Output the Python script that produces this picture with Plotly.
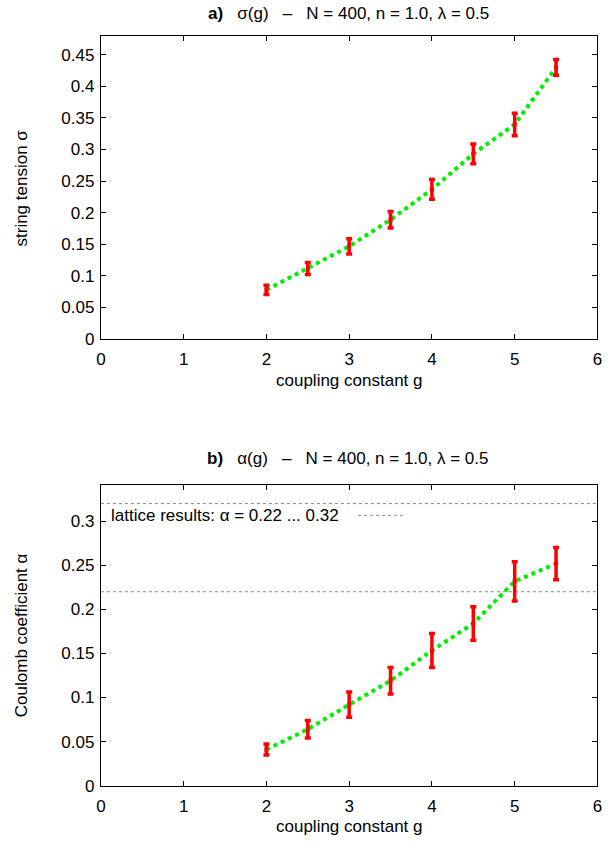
import plotly.graph_objects as go

# coupling constant values
g = [2.0, 2.5, 3.0, 3.5, 4.0, 4.5, 5.0, 5.5]

# a) string tension sigma(g) with errors
sigma = [0.0774, 0.1113, 0.1464, 0.1887, 0.2367, 0.2931, 0.3397, 0.4301]
sigma_err = [0.0073, 0.0096, 0.0122, 0.0131, 0.0157, 0.0157, 0.0180, 0.0125]

# b) Coulomb coefficient alpha(g) with errors
alpha = [0.0410, 0.0640, 0.0919, 0.1190, 0.1533, 0.1840, 0.2318, 0.2519]
alpha_err = [0.0063, 0.0100, 0.0143, 0.0150, 0.0192, 0.0190, 0.0223, 0.0184]

# lattice band for alpha
lattice_bounds = [0.22, 0.32]
x_span = [0, 6]

FONT = "Liberation Sans, Arial, sans-serif"
FS = 17
W, H = 611, 852
GREEN = "#00ee00"
RED = "#ff0000"
GREY = "#888888"

fig = go.Figure()


def add_series(xs, ys, errs, xa, ya):
    fig.add_trace(go.Scatter(
        x=xs, y=ys, mode="lines", xaxis=xa, yaxis=ya,
        line=dict(color=GREEN, width=4, dash="dot"),
        showlegend=False, hoverinfo="skip"))
    fig.add_trace(go.Scatter(
        x=xs, y=ys, mode="markers", xaxis=xa, yaxis=ya,
        marker=dict(color=RED, size=4, symbol="square"),
        error_y=dict(type="data", array=errs, color=RED, thickness=3.5, width=3),
        showlegend=False))


add_series(g, sigma, sigma_err, "x", "y")

# lattice band lines
for b in lattice_bounds:
    fig.add_trace(go.Scatter(
        x=x_span, y=[b, b], mode="lines", xaxis="x2", yaxis="y2",
        line=dict(color=GREY, width=1, dash="dot"),
        showlegend=False, hoverinfo="skip"))

add_series(g, alpha, alpha_err, "x2", "y2")

# key sample line for the lattice band
fig.add_shape(type="line", xref="paper", yref="paper",
              x0=359 / W, x1=407 / W, y0=1 - 521.5 / H, y1=1 - 521.5 / H,
              line=dict(color=GREY, width=1, dash="dot"))

xdom = [97.5 / W, 602.3 / W]
ydom_a = [1 - 342.7 / H, 1 - 36 / H]
ydom_b = [1 - 795 / H, 1 - 491 / H]

axis_common = dict(
    showline=True, mirror="allticks", linecolor="black", linewidth=1.2,
    ticks="inside", ticklen=5, tickcolor="black", tickwidth=1,
    showgrid=False, zeroline=False,
    tickfont=dict(family=FONT, size=FS, color="black"),
)

fig.update_layout(
    width=W, height=H,
    margin=dict(l=0, r=0, t=0, b=0),
    paper_bgcolor="white", plot_bgcolor="white",
    xaxis=dict(domain=xdom, range=[0, 6], dtick=1, anchor="y",
               ticklabelstandoff=5, **axis_common),
    yaxis=dict(domain=ydom_a, range=[0, 0.4807], dtick=0.05, anchor="x",
               tickformat="~g", ticklabelstandoff=2, **axis_common),
    xaxis2=dict(domain=xdom, range=[0, 6], dtick=1, anchor="y2",
                ticklabelstandoff=5, **axis_common),
    yaxis2=dict(domain=ydom_b, range=[0, 0.3408], dtick=0.05, anchor="x2",
                tickformat="~g", ticklabelstandoff=2, **axis_common),
)

NB = "\u00a0"
sp = NB * 3
ann = [
    dict(text=f"<b>a)</b>{sp}σ(g){sp}–{sp}N = 400, n = 1.0, λ = 0.5",
         x=349 / W, y=1 - 14 / H),
    dict(text=f"<b>b)</b>{sp}α(g){sp}–{sp}N = 400, n = 1.0, λ = 0.5",
         x=349 / W, y=1 - 464 / H),
    dict(text="coupling constant g", x=350 / W, y=1 - 385 / H),
    dict(text="coupling constant g", x=350 / W, y=1 - 836 / H),
    dict(text="string tension σ", x=17 / W, y=1 - 190 / H, textangle=-90),
    dict(text="Coulomb coefficient α", x=17 / W, y=1 - 643 / H, textangle=-90),
    dict(text="lattice results: α = 0.22 ... 0.32", x=342 / W, y=1 - 521.5 / H,
         xanchor="right"),
]
for a in ann:
    a.setdefault("xanchor", "center")
    fig.add_annotation(xref="paper", yref="paper", yanchor="middle",
                       showarrow=False,
                       font=dict(family=FONT, size=FS, color="black"), **a)

fig.write_html("out.html")
